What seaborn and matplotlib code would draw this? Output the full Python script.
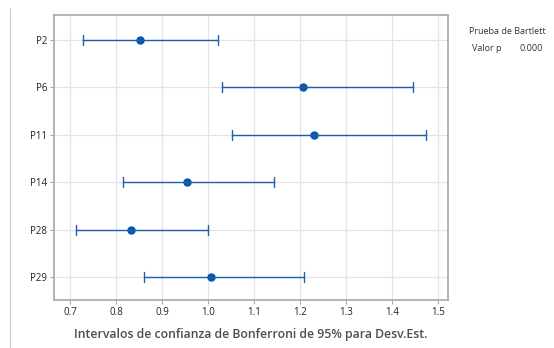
import numpy as np
import pandas as pd
import matplotlib
matplotlib.use("Agg")
import matplotlib.pyplot as plt
from matplotlib.lines import Line2D
import seaborn as sns

# Bonferroni 95% intervals for the standard deviation of each item
grupos = ["P2", "P6", "P11", "P14", "P28", "P29"]
desv_est = [0.851, 1.205, 1.229, 0.954, 0.832, 1.006]
limite_inf = [0.728, 1.030, 1.052, 0.815, 0.712, 0.861]
limite_sup = [1.020, 1.445, 1.474, 1.143, 0.999, 1.208]
ticks_x = [0.7, 0.8, 0.9, 1.0, 1.1, 1.2, 1.3, 1.4, 1.5]

# long table: lower bound, estimate and upper bound per item
filas = []
for g, lo, m, hi in zip(grupos, limite_inf, desv_est, limite_sup):
    for v in (lo, m, hi):
        filas.append({"grupo": g, "valor": v})
df = pd.DataFrame(filas)

sns.set_theme(style="whitegrid")
plt.rcParams["font.family"] = ["Open Sans", "DejaVu Sans"]

fig = plt.figure(figsize=(5.54, 3.48), dpi=100)
ax = fig.add_axes([54.3 / 554, 1 - 300 / 348, (447.7 - 54.3) / 554, (300 - 15) / 348])

azul = "#1f5ea8"
sns.pointplot(
    data=df, x="valor", y="grupo", order=grupos,
    estimator="median",
    errorbar=lambda v: (v.min(), v.max()),
    linestyle="none", markers="o", markersize=4.0,
    capsize=0.21, err_kws={"linewidth": 1.0, "color": azul},
    color="#0a56a8", ax=ax,
)

ax.set_xlim(0.665, 1.5204)
ax.set_ylim(5.48, -0.52)
ax.set_xticks(ticks_x)
ax.set_xticklabels([f"{t:.1f}" for t in ticks_x])
ax.set_ylabel("")
ax.set_xlabel("Intervalos de confianza de Bonferroni de 95% para Desv.Est.",
              fontsize=8.8, color="#4d4d4d", fontweight="semibold", labelpad=7)

ax.grid(True, color="#e4e4e4", linewidth=0.9)
ax.set_axisbelow(True)
for lado in ["left", "bottom", "right", "top"]:
    ax.spines[lado].set_visible(True)
    ax.spines[lado].set_color("#a8a8a8")
    ax.spines[lado].set_linewidth(1.2)
ax.tick_params(axis="both", labelsize=7, labelcolor="#222222", length=3,
               width=0.8, pad=2, direction="out", color="#a8a8a8")
ax.xaxis.set_ticks_position("bottom")
ax.yaxis.set_ticks_position("left")

# Bartlett test summary
fig.text(507.5 / 554, 1 - 32 / 348, "Prueba de Bartlett", ha="center", va="center",
         fontsize=6.5, color="#333333")
fig.text(471.5 / 554, 1 - 48.5 / 348, "Valor p", ha="left", va="center",
         fontsize=6.5, color="#333333")
fig.text(520 / 554, 1 - 48.5 / 348, "0.000", ha="left", va="center",
         fontsize=6.5, color="#333333")

fig.add_artist(Line2D([10 / 554, 10 / 554], [0, 1 - 8 / 348],
                      color="#d4d4d4", linewidth=0.9))

fig.savefig("out.png", dpi=100, facecolor="white")
